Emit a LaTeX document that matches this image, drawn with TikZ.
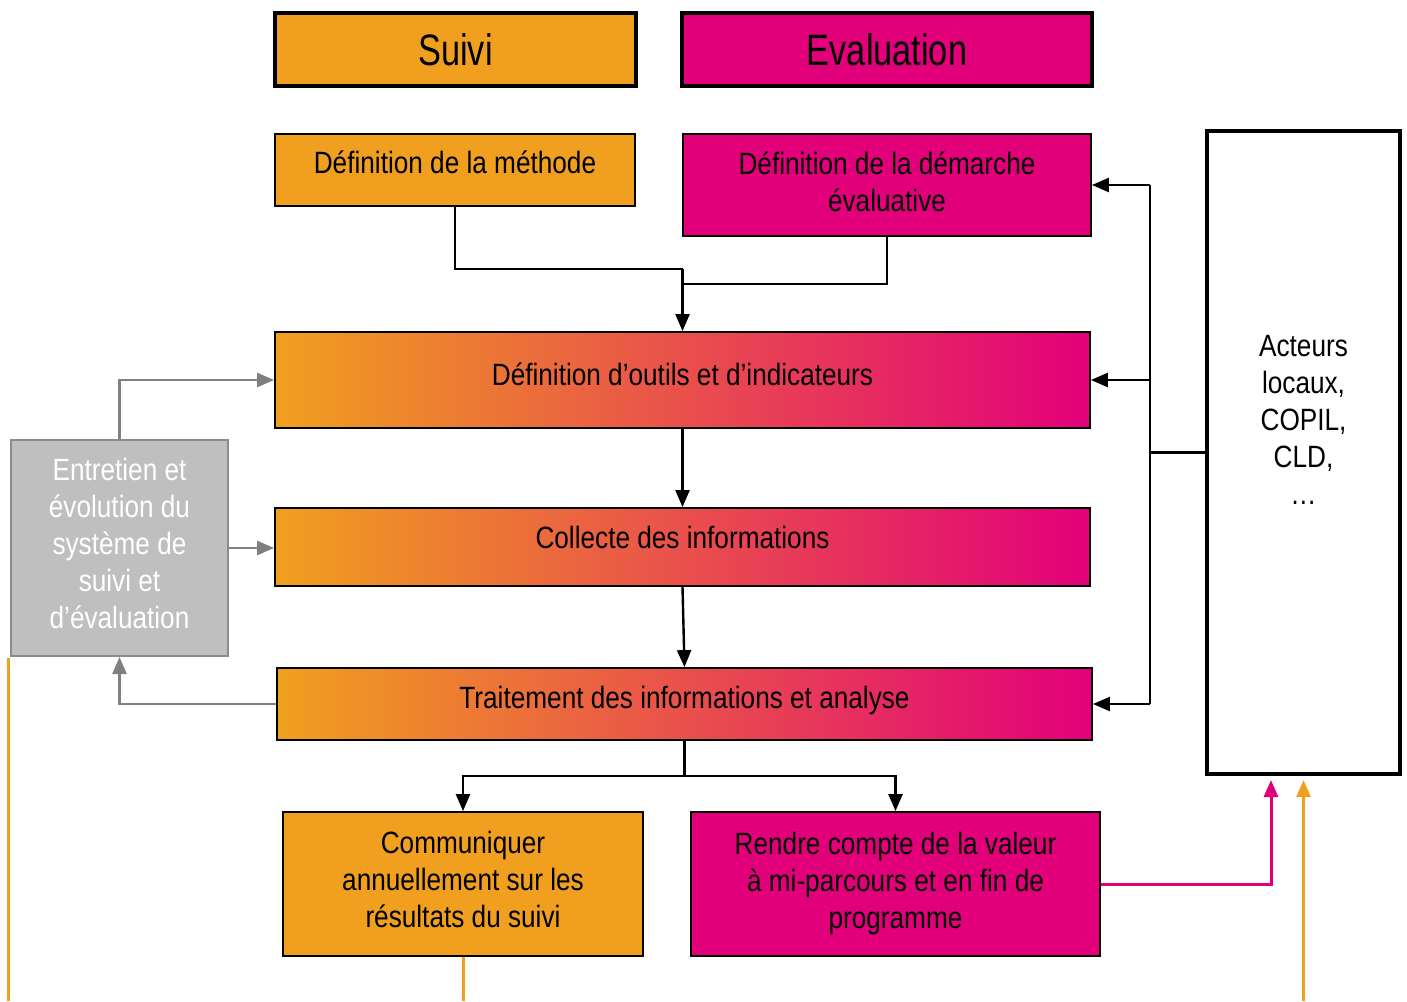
\documentclass[tikz,border=0pt]{standalone}
\usepackage{fontspec}
\setmainfont{Liberation Sans}[FakeStretch=0.85]
\newfontfamily\headfont{Liberation Sans}[FakeStretch=0.78]
\usetikzlibrary{arrows.meta}
\definecolor{orng}{HTML}{F0A01E}
\definecolor{mgnt}{HTML}{E2007A}
\definecolor{gbox}{HTML}{BFBFBF}
\definecolor{gedge}{HTML}{8C8C8C}
\definecolor{gline}{HTML}{808080}
\begin{document}
\begin{tikzpicture}[x=0.5pt,y=-0.5pt,
  font=\fontsize{15.4}{18.5}\selectfont,
  box/.style={draw=black, line width=0.9pt, inner sep=0pt, align=center, text=black},
  obox/.style={box, fill=orng},
  mbox/.style={box, fill=mgnt},
  gradbox/.style={box, left color=orng, right color=mgnt},
  headbox/.style={draw=black, line width=2pt, inner sep=0pt, font=\headfont\fontsize{22}{26}\selectfont},
  graybox/.style={draw=gedge, line width=1pt, fill=gbox, text=white, inner sep=0pt, align=center},
  actbox/.style={draw=black, line width=2pt, inner sep=0pt},
  tip/.style={-{Triangle[length=8.5pt,width=7pt]}},
  conn/.style={draw=black, line width=1.2pt},
  arr/.style={conn, tip},
  garr/.style={draw=gline, line width=1.2pt, tip},
  marr/.style={draw=mgnt, line width=1.5pt, tip},
  oline/.style={draw=orng, line width=1.5pt},
  oarr/.style={oline, tip}
]
\useasboundingbox (0,0) rectangle (1407,1001);

% headers
\node[headbox, fill=orng, minimum width=180.5pt, minimum height=36.5pt] (suivi) at (455.5,49.5) {Suivi};
\node[headbox, fill=mgnt, minimum width=205pt, minimum height=36.5pt] (eval) at (887,49.5) {Evaluation};

% boxes
\node[obox, minimum width=180pt, minimum height=36pt, text depth=8pt] (meth) at (455,170) {Définition de la méthode};
\node[mbox, minimum width=204pt, minimum height=51pt, text depth=3pt] (dem) at (887,185) {Définition de la démarche\\évaluative};
\node[gradbox, minimum width=407.5pt, minimum height=48pt, text depth=6pt] (outils) at (682.5,380) {Définition d’outils et d’indicateurs};
\node[gradbox, minimum width=407.5pt, minimum height=39pt, text depth=10pt] (coll) at (682.5,547) {Collecte des informations};
\node[gradbox, minimum width=407.5pt, minimum height=36pt, text depth=6.2pt] (trait) at (684.5,704) {Traitement des informations et analyse};
\node[obox, minimum width=180pt, minimum height=72pt, text depth=5pt] (comm) at (463,884) {Communiquer\\annuellement sur les\\résultats du suivi};
\node[mbox, minimum width=204.5pt, minimum height=72pt, text depth=4pt] (rendre) at (895.5,884) {Rendre compte de la valeur\\à mi-parcours et en fin de\\programme};
\node[graybox, minimum width=108.5pt, minimum height=108pt, text depth=5pt] (gray) at (119.5,548) {Entretien et\\évolution du\\système de\\suivi et\\d’évaluation};
\node[actbox, minimum width=96.5pt, minimum height=321.5pt] (act) at (1303.5,452.5) {};
\node[align=center, inner sep=0pt] (acttxt) at (1303.5,420) {Acteurs\\locaux,\\COPIL,\\CLD,\\…};

% top merge
\coordinate (j1) at (outils.north |- 0,269);
\coordinate (j1b) at (outils.north |- 0,284);
\draw[conn] (meth.south) |- (j1);
\draw[conn] (dem.south) |- (j1b);
\draw[arr] (j1) -- (outils.north);

% vertical flow
\draw[arr] (outils.south) -- (coll.north);
\draw[arr] (coll.south) -- (trait.north);

% split
\coordinate (j2) at (trait.south |- 0,776);
\draw[conn] (trait.south) -- (j2);
\draw[arr] (j2) -| (comm.north);
\draw[arr] (j2) -| (rendre.north);

% actors bus
\coordinate (bx) at (1150,0);
\draw[conn] (act.west) -- (act.west -| bx);
\draw[conn] (dem.east -| bx) -- (trait.east -| bx);
\draw[arr] (dem.east -| bx) -- (dem.east);
\draw[arr] (outils.east -| bx) -- (outils.east);
\draw[arr] (trait.east -| bx) -- (trait.east);

% gray loop
\draw[garr] (gray.north) |- (outils.west);
\draw[garr] (gray.east) -- (gray.east -| coll.west);
\draw[garr] (trait.west) -| (gray.south);

% magenta and orange
\coordinate (actin1) at ([xshift=-16.25pt,yshift=-2pt]act.south);
\coordinate (actin2) at ([yshift=-2pt]act.south);
\draw[marr] (rendre.east) -| (actin1);
\coordinate (ob1) at (actin2 |- 0,1001);
\draw[oarr] (ob1) -- (actin2);
\coordinate (ob2) at (comm.south |- 0,1001);
\draw[oline] (comm.south) -- (ob2);
\coordinate (ol1) at (8,658);
\coordinate (ol2) at (8,1001);
\draw[oline] (ol1) -- (ol2);
\end{tikzpicture}
\end{document}
